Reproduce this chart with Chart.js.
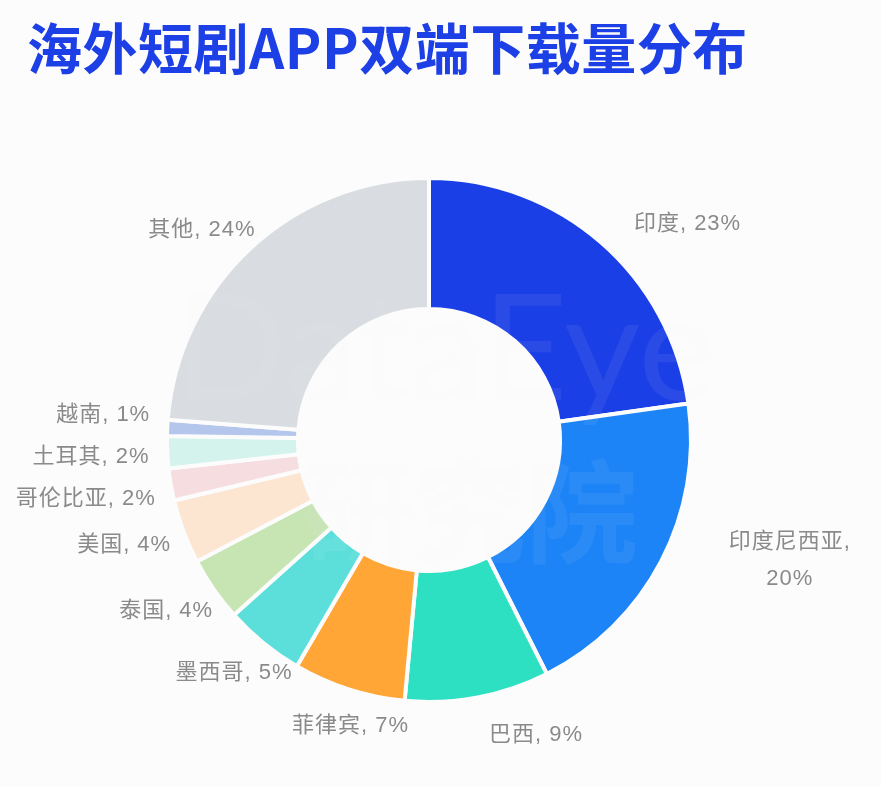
<!DOCTYPE html>
<html>
<head>
<meta charset="utf-8">
<script src="https://cdn.jsdelivr.net/npm/chart.js@4/dist/chart.umd.min.js"></script>
<style>
    html, body { margin: 0; padding: 0; background: #fcfcfc; }
    #wrap { position: relative; width: 881px; height: 786px; overflow: hidden; }
    #title {
        position: absolute; left: 27px; top: 13px;
        font: bold 55px "Noto Sans CJK SC", sans-serif; line-height: 64px;
        color: #1c3fe6; white-space: nowrap; letter-spacing: 0.5px;
    }
    #pieChart { position: absolute; left: 0; top: 0; }
</style>
</head>
<body>
<div id="wrap">
    <canvas id="pieChart" width="881" height="786"></canvas>
    <div id="title">海外短剧APP双端下载量分布</div>
</div>
<script>
// Data
const countries = ['印度', '印度尼西亚', '巴西', '菲律宾', '墨西哥', '泰国', '美国', '哥伦比亚', '土耳其', '越南', '其他'];
const shares = [23, 20, 9, 7, 5, 4, 4, 2, 2, 1, 24];

const sliceColors = [
    '#1b3fe6', '#1c84f7', '#2de0c2', '#ffa636', '#5cdfdb', '#c6e5b3',
    '#fce6d2', '#f6dde0', '#d4f3ec', '#b5c6ec', '#d9dde1'
];
const bgColor = '#fcfcfc';
const labelFont = '22px "Liberation Sans", "Noto Sans CJK SC", sans-serif';

// faint watermark over the ring
const watermark = {
    id: 'watermark',
    afterDatasetsDraw(chart) {
        const ctx = chart.ctx;
        ctx.save();
        ctx.fillStyle = 'rgba(236,236,236,0.07)';
        ctx.textAlign = 'center';
        ctx.textBaseline = 'middle';
        ctx.font = '148px "Lato", sans-serif';
        ctx.fillText('DataEye', 445, 352);
        ctx.font = 'bold 112px "Noto Sans CJK SC", sans-serif';
        ctx.fillText('研究院', 470, 512);
        ctx.restore();
    }
};

// "name, xx%" labels outside the ring, spread apart on each side
const outsideLabels = {
    id: 'outsideLabels',
    afterDraw(chart) {
        const ctx = chart.ctx;
        const meta = chart.getDatasetMeta(0);
        const items = meta.data.map((arc, i) => {
            const p = arc.getProps(['x', 'y', 'startAngle', 'endAngle', 'outerRadius'], true);
            const mid = (p.startAngle + p.endAngle) / 2;
            const r = p.outerRadius - 2;
            const s = Math.sin(mid);
            return {
                cx: p.x, cy: p.y, r: r,
                side: Math.cos(mid) > 0.001 ? 1 : -1,
                y: p.y + s * (r + (s < 0 ? 26 : 40)),
                text: countries[i] + ', ' + shares[i] + '%'
            };
        });

        ctx.save();
        ctx.font = labelFont;
        ctx.letterSpacing = '1px';
        ctx.fillStyle = '#8a8a8a';
        ctx.textBaseline = 'middle';
        const gap = 42;
        [1, -1].forEach(side => {
            const list = items.filter(d => d.side === side).sort((a, b) => a.y - b.y);
            // relax overlapping neighbours both ways
            for (let k = 0; k < 60; k++) {
                for (let j = 1; j < list.length; j++) {
                    const over = gap - (list[j].y - list[j - 1].y);
                    if (over > 0) {
                        list[j - 1].y -= over / 2;
                        list[j].y += over / 2;
                    }
                }
            }
            list.forEach(d => {
                const dy = d.y - d.cy;
                const dx = Math.sqrt(Math.max(d.r * d.r - dy * dy, 0));
                const off = side > 0 ? 60 : 20;
                const x = d.cx + side * (dx + off);
                const w = ctx.measureText(d.text).width;
                if (side > 0 && x + w > chart.width - 40) {
                    // too wide for the right margin: break after the comma
                    const parts = d.text.split(', ');
                    const lines = [parts[0] + ',', parts[1]];
                    const bw = Math.max(...lines.map(l => ctx.measureText(l).width));
                    const bx = x + 20 + bw / 2;
                    ctx.textAlign = 'center';
                    ctx.fillText(lines[0], bx, d.y - 37);
                    ctx.fillText(lines[1], bx, d.y);
                } else {
                    ctx.textAlign = side > 0 ? 'left' : 'right';
                    ctx.fillText(d.text, x, d.y);
                }
            });
        });
        ctx.restore();
    }
};

const createShareChart = () => {
    const ctx = document.getElementById('pieChart').getContext('2d');
    return new Chart(ctx, {
        type: 'doughnut',
        data: {
            labels: countries,
            datasets: [{
                data: shares,
                backgroundColor: sliceColors,
                borderColor: bgColor,
                borderWidth: 4,
                hoverOffset: 0
            }]
        },
        options: {
            responsive: false,
            animation: false,
            cutout: '50%',
            layout: {
                padding: { left: 165, right: 188, top: 176, bottom: 82 }
            },
            plugins: {
                legend: { display: false },
                tooltip: { enabled: false }
            }
        },
        plugins: [watermark, outsideLabels]
    });
};

document.addEventListener('DOMContentLoaded', () => {
    const shareChart = createShareChart();
});
</script>
</body>
</html>
